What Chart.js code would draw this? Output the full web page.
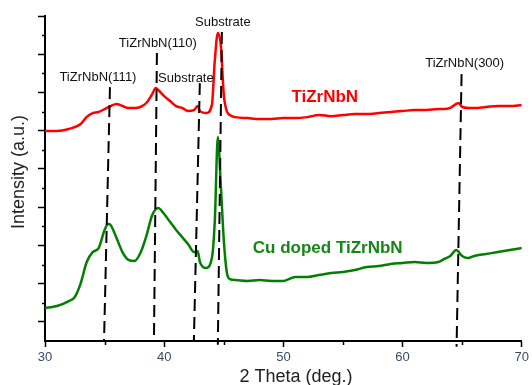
<!DOCTYPE html>
<html>
<head>
<meta charset="utf-8">
<script src="https://cdn.jsdelivr.net/npm/chart.js@4.4.1/dist/chart.umd.min.js"></script>
<style>
  html, body { margin: 0; padding: 0; background: #fff; }
</style>
</head>
<body>
<canvas id="xrd" width="532" height="385"></canvas>
<script>
// TiZrNbN film
var redTheta = [30, 31, 32, 33, 33.5, 34, 34.5, 35, 35.5, 36,
  36.5, 37, 37.5, 38, 38.5, 39, 39.3, 39.5, 40, 40.5,
  41, 41.5, 42, 42.5, 42.8, 43, 43.5, 44, 44.25, 44.5,
  44.75, 45, 45.25, 45.5, 46, 47, 48, 49, 50, 51,
  52, 53, 54, 55, 56, 57, 58, 59, 60, 61,
  62, 63, 63.5, 64, 64.5, 64.7, 65, 65.5, 66, 67,
  68, 69, 70];
var redIntensity = [1098, 1098, 1109, 1135, 1172, 1192, 1198, 1213, 1229, 1240,
  1229, 1219, 1219, 1224, 1245, 1292, 1323, 1313, 1281, 1255,
  1229, 1219, 1203, 1208, 1229, 1203, 1192, 1234, 1470, 1611,
  1548, 1287, 1203, 1182, 1171, 1166, 1161, 1161, 1166, 1166,
  1171, 1182, 1176, 1182, 1187, 1187, 1192, 1198, 1203, 1208,
  1208, 1213, 1213, 1219, 1240, 1245, 1224, 1219, 1219, 1224,
  1229, 1229, 1234];

// Cu doped TiZrNbN film
var greenTheta = [30, 31, 32, 32.5, 33, 33.5, 34, 34.5, 35, 35.3,
  35.5, 36, 36.5, 37, 37.5, 38, 38.5, 39, 39.5, 40,
  40.5, 41, 41.5, 42, 42.5, 42.8, 43, 43.5, 44, 44.25,
  44.5, 44.75, 45, 45.25, 45.5, 46, 47, 48, 49, 50,
  51, 52, 53, 54, 55, 56, 57, 58, 59, 60,
  61, 62, 63, 63.5, 64, 64.5, 65, 65.5, 66, 67,
  68, 69, 70];
var greenIntensity = [173, 183, 209, 230, 303, 413, 465, 486, 581, 612,
  607, 539, 465, 424, 418, 460, 549, 659, 696, 664,
  622, 581, 544, 507, 465, 471, 413, 382, 434, 633,
  1067, 816, 528, 361, 324, 319, 314, 319, 314, 314,
  335, 335, 345, 356, 361, 371, 387, 392, 403, 408,
  413, 408, 413, 429, 445, 476, 445, 434, 445, 455,
  465, 476, 486];

// dashed peak markers: top and bottom end of each line
var peakNames = ['TiZrNbN(111)', 'TiZrNbN(110)', 'Substrate', 'Substrate', 'TiZrNbN(300)'];
var peakTopTheta = [35.45, 39.39, 42.99, 44.84, 64.95];
var peakTopIntensity = [1328, 1506, 1349, 1616, 1396];
var peakBottomTheta = [34.95, 39.14, 42.49, 44.50, 64.53];
var peakBottomIntensity = [-5, -5, 0, -20, -30];

// ticks
var xMajor = [30, 40, 50, 60, 70];
var xMinor = [35, 45, 55, 65];
var yMajor = [100, 300, 500, 700, 900, 1100, 1300, 1500, 1700];
var yMinor = [200, 400, 600, 800, 1000, 1200, 1400, 1600];

// where the texts sit (data units)
var peakLabelTheta = [34.44, 39.47, 41.82, 44.92, 65.21];
var peakLabelIntensity = [1381, 1559, 1375, 1668, 1454];

function puntos(xs, ys) {
  return xs.map(function (v, i) { return { x: v, y: ys[i] }; });
}

var datasets = [
  {
    label: 'TiZrNbN',
    data: puntos(redTheta, redIntensity),
    borderColor: 'rgb(255, 0, 0)',
    borderWidth: 2.5,
    pointRadius: 0,
    cubicInterpolationMode: 'monotone',
    order: 2
  },
  {
    label: 'Cu doped TiZrNbN',
    data: puntos(greenTheta, greenIntensity),
    borderColor: 'rgb(0, 128, 0)',
    borderWidth: 2.5,
    pointRadius: 0,
    cubicInterpolationMode: 'monotone',
    order: 2
  }
];

peakNames.forEach(function (nombre, i) {
  datasets.push({
    label: nombre,
    data: [
      { x: peakTopTheta[i], y: peakTopIntensity[i] },
      { x: peakBottomTheta[i], y: peakBottomIntensity[i] }
    ],
    borderColor: '#000',
    borderWidth: 2,
    borderDash: [12, 6],
    pointRadius: 0,
    clip: false,
    order: 1
  });
});

var marcasMenores = {
  id: 'marcasMenores',
  afterDraw: function (chart) {
    var ctx = chart.ctx, x = chart.scales.x, y = chart.scales.y;
    ctx.save();
    ctx.strokeStyle = '#000';
    ctx.lineWidth = 1.5;
    xMinor.forEach(function (t) {
      var px = Math.round(x.getPixelForValue(t)) + 0.5;
      ctx.beginPath();
      ctx.moveTo(px, y.bottom);
      ctx.lineTo(px, y.bottom + 4);
      ctx.stroke();
    });
    yMinor.forEach(function (v) {
      var py = Math.round(y.getPixelForValue(v)) + 0.5;
      ctx.beginPath();
      ctx.moveTo(x.left - 3, py);
      ctx.lineTo(x.left, py);
      ctx.stroke();
    });
    ctx.restore();
  }
};

var textos = {
  id: 'textos',
  afterDraw: function (chart) {
    var ctx = chart.ctx, x = chart.scales.x, y = chart.scales.y;
    ctx.save();
    ctx.textAlign = 'center';
    ctx.textBaseline = 'middle';

    ctx.fillStyle = '#111';
    ctx.font = '13px "Liberation Sans", Arial, sans-serif';
    peakNames.forEach(function (nombre, i) {
      ctx.fillText(nombre, x.getPixelForValue(peakLabelTheta[i]), y.getPixelForValue(peakLabelIntensity[i]));
    });

    ctx.font = 'bold 17px "Liberation Sans", Arial, sans-serif';
    ctx.fillStyle = 'rgb(255, 0, 0)';
    ctx.fillText('TiZrNbN', x.getPixelForValue(53.47), y.getPixelForValue(1276));
    ctx.fillStyle = 'rgb(20, 135, 20)';
    ctx.fillText('Cu doped TiZrNbN', x.getPixelForValue(53.72), y.getPixelForValue(486));

    // axis titles
    ctx.fillStyle = '#222';
    ctx.font = '18px "Liberation Sans", Arial, sans-serif';
    ctx.fillText('2 Theta (deg.)', 296, 377);
    ctx.translate(19, 172);
    ctx.rotate(-Math.PI / 2);
    ctx.fillText('Intensity (a.u.)', 0, 0);
    ctx.restore();
  }
};

var xrd = document.getElementById('xrd').getContext('2d');

var graficaXrd = new Chart(xrd, {
  type: 'line',
  data: { datasets: datasets },
  options: {
    responsive: false,
    animation: false,
    layout: { padding: { top: 16, right: 10, left: 0, bottom: 0 } },
    plugins: {
      legend: { display: false },
      tooltip: { enabled: false }
    },
    scales: {
      x: {
        type: 'linear',
        min: 30,
        max: 70,
        afterBuildTicks: function (s) { s.ticks = xMajor.map(function (v) { return { value: v }; }); },
        afterFit: function (s) { s.height = 44; },
        border: { color: '#000', width: 2 },
        grid: { drawOnChartArea: false, tickLength: 6, tickColor: '#000', tickWidth: 1.5 },
        ticks: { color: '#3a4a66', font: { size: 13, family: '"Liberation Sans", Arial, sans-serif' }, padding: 3 }
      },
      y: {
        type: 'linear',
        min: 0,
        max: 1700,
        afterBuildTicks: function (s) { s.ticks = yMajor.map(function (v) { return { value: v }; }); },
        afterFit: function (s) { s.width = 45; },
        border: { color: '#000', width: 2 },
        grid: { drawOnChartArea: false, tickLength: 7, tickColor: '#000', tickWidth: 1.5 },
        ticks: { display: false }
      }
    }
  },
  plugins: [marcasMenores, textos]
});
</script>
</body>
</html>
